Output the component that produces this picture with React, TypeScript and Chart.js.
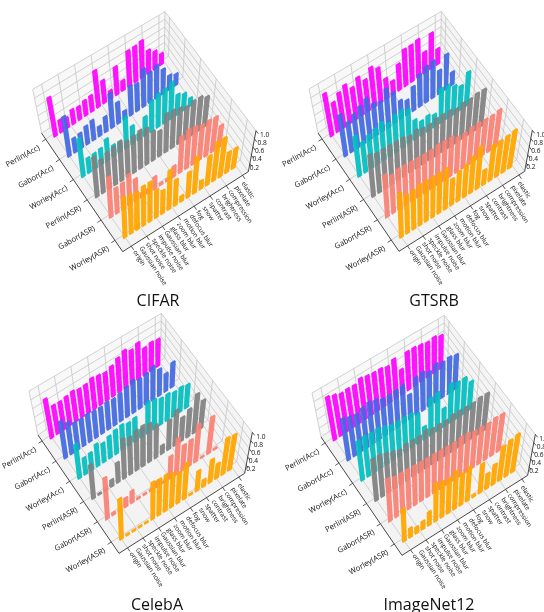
import React, { useEffect, useRef } from "react";
import { Chart, registerables } from "chart.js";

Chart.register(...registerables);

const categories = ["origin","Gaussian noise","shot noise","speckle noise","impulse noise","Gaussian blur","glass blur","zoom blur","motion blur","defocus blur","fog","snow","spatter","contrast","brightness","compression","pixelate","elastic"];
const rowLabels = ["Perlin(Acc)","Gabor(Acc)","Worley(Acc)","Perlin(ASR)","Gabor(ASR)","Worley(ASR)"];
const rowColors = ["rgba(255,0,255,0.92)","rgba(65,105,225,0.92)","rgba(0,190,190,0.92)","rgba(128,128,128,0.92)","rgba(250,128,114,0.92)","rgba(255,165,0,0.95)"];
const zTicks = [0.2,0.4,0.6,0.8,1.0];
const zGrid = [0,0.2,0.4,0.6,0.8,1.0];
const catTickPositions = [0,2.5,5,7.5,10,12.5,15,17.5];
const rowTickPositions = [0,1,2,3,4,5];

const cifarPerlinAcc = [0.88,0.28,0.23,0.33,0.3,0.35,0.37,0.87,0.54,0.2,0.67,0.24,0.87,0.88,0.92,0.58,0.45,0.28];
const cifarGaborAcc = [0.9,0.32,0.34,0.41,0.45,0.22,0.35,0.81,0.5,0.2,0.7,0.66,0.92,0.74,0.81,0.62,0.36,0.29];
const cifarWorleyAcc = [0.85,0.33,0.34,0.36,0.49,0.26,0.23,0.72,0.42,0.15,0.45,0.73,0.8,0.82,0.9,0.5,0.42,0.2];
const cifarPerlinAsr = [0.88,0.74,0.81,0.85,0.9,0.81,0.84,0.88,0.84,0.68,0.6,0.91,0.9,0.86,0.8,0.84,0.84,0.75];
const cifarGaborAsr = [0.88,0.56,0.58,0.69,0.5,0.1,0.1,0.28,0.05,0.05,0.25,0.85,0.92,0.9,0.85,0.86,0.85,0.55];
const cifarWorleyAsr = [0.87,0.85,0.81,0.87,0.88,0.62,0.52,0.89,0.59,0.13,0.58,0.85,0.2,0.69,0.94,0.93,0.5,0.5];

const gtsrbPerlinAcc = [0.96,0.67,0.8,0.89,0.74,0.89,0.74,0.94,0.83,0.48,0.32,0.63,0.9,0.9,0.94,0.53,0.9,0.4];
const gtsrbGaborAcc = [0.93,0.68,0.77,0.86,0.95,0.75,0.7,0.9,0.72,0.44,0.35,0.58,0.78,0.88,0.91,0.58,0.88,0.33];
const gtsrbWorleyAcc = [0.9,0.68,0.75,0.8,0.86,0.75,0.85,0.87,0.8,0.46,0.34,0.37,0.3,0.83,0.81,0.7,0.6,0.85];
const gtsrbPerlinAsr = [0.92,0.88,0.88,0.88,0.88,0.88,0.83,0.88,0.83,0.83,0.88,0.88,0.88,0.83,0.88,0.88,0.92,0.92];
const gtsrbGaborAsr = [0.92,0.83,0.88,0.88,0.88,0.88,0.88,0.88,0.92,0.92,0.92,0.83,0.83,0.88,0.88,0.88,0.88,0.92];
const gtsrbWorleyAsr = [0.95,0.83,0.85,0.9,0.9,0.9,0.9,0.92,0.6,0.68,0.75,0.85,0.98,0.35,0.85,0.85,0.88,0.92];

const celebaPerlinAcc = [0.88,0.65,0.64,0.67,0.7,0.66,0.67,0.73,0.7,0.67,0.73,0.83,0.92,0.83,0.91,0.68,0.72,0.69];
const celebaGaborAcc = [0.83,0.72,0.63,0.62,0.64,0.62,0.61,0.64,0.62,0.65,0.71,0.78,0.71,0.75,0.82,0.66,0.45,0.63];
const celebaWorleyAcc = [0.76,0.37,0.39,0.5,0.43,0.5,0.55,0.58,0.53,0.56,0.2,0.74,0.71,0.64,0.65,0.6,0.62,0.58];
const celebaPerlinAsr = [0.75,0.03,0.03,0.15,0.45,0.9,0.85,0.92,0.94,0.9,0.77,0.2,0.7,0.85,0.58,0.68,0.96,0.7];
const celebaGaborAsr = [0.9,0.05,0.03,0.2,0.27,0.03,0.03,0.03,0.13,0.03,0.52,0.85,0.6,0.62,0.9,0.03,0.9,0.03];
const celebaWorleyAsr = [0.88,0.03,0.03,0.03,0.03,0.83,0.81,0.83,0.77,0.71,0.83,0.03,0.47,0.17,0.55,0.36,0.88,0.86];

const imagenetPerlinAcc = [0.98,0.93,0.88,0.9,0.89,0.96,0.93,0.91,0.91,0.86,0.95,0.6,0.94,0.94,0.91,0.87,0.9,0.84];
const imagenetGaborAcc = [0.94,0.89,0.86,0.92,0.96,0.92,0.86,0.85,0.87,0.89,0.58,0.9,0.93,0.84,0.94,0.88,0.91,0.87];
const imagenetWorleyAcc = [0.88,0.9,0.88,0.9,0.85,0.8,0.79,0.8,0.79,0.7,0.3,0.88,0.92,0.45,0.95,0.89,0.9,0.71];
const imagenetPerlinAsr = [0.92,0.92,0.88,0.83,0.78,0.83,0.83,0.83,0.88,0.83,0.83,0.83,0.88,0.88,0.88,0.88,0.92,0.92];
const imagenetGaborAsr = [0.92,0.88,0.88,0.88,0.88,0.88,0.88,0.88,0.88,0.88,0.88,0.92,0.92,0.88,0.88,0.88,0.92,0.92];
const imagenetWorleyAsr = [0.7,0.2,0.14,0.18,0.3,0.85,0.8,0.79,0.86,0.72,0.78,0.05,0.68,0.36,0.48,0.82,0.87,0.92];

type Pt = { x: number; y: number };
const Z = 3; // corner measurements were taken at 3x
const CORNERS = {
  L: [125, 400], B: [368, 755], R: [745, 515], K: [493, 150],
  tL: [98, 268], tB: [362, 615], tR: [768, 392], tK: [495, 35],
};

const U0 = 0.07, DU = 0.171, V0 = 0.07, DV = 0.0506, HALF_U = 0.006, HALF_V = 0.0165;
const uOf = (r: number) => U0 + r * DU;
const vOf = (c: number) => V0 + c * DV;

function homography(p0: number[], p1: number[], p2: number[], p3: number[]) {
  const [x0, y0] = p0, [x1, y1] = p1, [x2, y2] = p2, [x3, y3] = p3;
  const dx1 = x1 - x2, dx2 = x3 - x2, sx = x0 - x1 + x2 - x3;
  const dy1 = y1 - y2, dy2 = y3 - y2, sy = y0 - y1 + y2 - y3;
  const den = dx1 * dy2 - dx2 * dy1;
  const g = (sx * dy2 - dx2 * sy) / den, h = (dx1 * sy - sx * dy1) / den;
  const a = x1 - x0 + g * x1, b = x3 - x0 + h * x3, d = y1 - y0 + g * y1, e = y3 - y0 + h * y3;
  return (u: number, v: number): Pt => {
    const w = g * u + h * v + 1;
    return { x: (a * u + b * v + x0) / w, y: (d * u + e * v + y0) / w };
  };
}

function makeProjector(ox: number, oy: number) {
  const s = (p: number[]) => [(p[0] + ox) / Z, (p[1] + oy) / Z];
  const floor = homography(s(CORNERS.L), s(CORNERS.B), s(CORNERS.R), s(CORNERS.K));
  const top = homography(s(CORNERS.tL), s(CORNERS.tB), s(CORNERS.tR), s(CORNERS.tK));
  return (u: number, v: number, w: number): Pt => {
    const a = floor(u, v), b = top(u, v);
    return { x: a.x + (b.x - a.x) * w, y: a.y + (b.y - a.y) * w };
  };
}

function hull(points: Pt[]): Pt[] {
  const p = [...points].sort((a, b) => a.x - b.x || a.y - b.y);
  const cross = (o: Pt, a: Pt, b: Pt) => (a.x - o.x) * (b.y - o.y) - (a.y - o.y) * (b.x - o.x);
  const lo: Pt[] = [], up: Pt[] = [];
  for (const q of p) { while (lo.length > 1 && cross(lo[lo.length - 2], lo[lo.length - 1], q) <= 0) lo.pop(); lo.push(q); }
  for (const q of [...p].reverse()) { while (up.length > 1 && cross(up[up.length - 2], up[up.length - 1], q) <= 0) up.pop(); up.push(q); }
  return [...lo.slice(0, -1), ...up.slice(0, -1)];
}

const TITLE_SIZE = 16, TITLE_LH = 1.2;
const FONT = "'Open Sans'";

function Panel(props: { title: string; rows: number[][]; left: number; top: number; centerX: number; titleY: number; height: number; ox: number; oy: number }) {
  const ref = useRef<HTMLCanvasElement>(null);
  const { title, rows, left, top, centerX, titleY, height, ox, oy } = props;
  const width = centerX * 2;
  useEffect(() => {
    const P = makeProjector(ox, oy);
    const ds: any[] = [];
    const poly = (pts: Pt[], color: string) => ds.push({ data: [...pts, pts[0]], showLine: true, fill: "shape", backgroundColor: color, borderWidth: 0, pointRadius: 0, tension: 0 });
    const line = (a: Pt, b: Pt, color: string, w: number) => ds.push({ data: [a, b], showLine: true, fill: false, borderColor: color, borderWidth: w, pointRadius: 0, tension: 0 });

    poly([P(0,0,0), P(0,1,0), P(0,1,1), P(0,0,1)], "#f8f8f8");
    poly([P(0,1,0), P(1,1,0), P(1,1,1), P(0,1,1)], "#f4f4f4");
    poly([P(0,0,0), P(1,0,0), P(1,1,0), P(0,1,0)], "#f3f3f3");

    const GRID = "#c6c6c6";
    for (const c of catTickPositions) {
      const v = vOf(c);
      line(P(1,v,0), P(0,v,0), GRID, 0.8);
      line(P(0,v,0), P(0,v,1), GRID, 0.8);
      line(P(1,v,0), P(1.03,v,0), "#333", 0.8);
    }
    for (const r of rowTickPositions) {
      const u = uOf(r) - 0.02;
      line(P(u,0,0), P(u,1,0), GRID, 0.8);
      line(P(u,1,0), P(u,1,1), GRID, 0.8);
      line(P(u,0,0), P(u,-0.03,0), "#333", 0.8);
    }
    for (const z of zGrid) {
      line(P(0,0,z), P(0,1,z), GRID, 0.8);
      line(P(0,1,z), P(1,1,z), GRID, 0.8);
    }
    for (const z of zTicks) line(P(1,1,z), P(1.025,1,z), "#333", 0.8);
    line(P(0,0,0), P(0,0,1), GRID, 0.8);
    line(P(0,1,0), P(0,1,1), GRID, 0.8);
    line(P(0,0,0), P(1,0,0), "#333", 0.9);
    line(P(1,0,0), P(1,1,0), "#333", 0.9);
    line(P(1,1,0), P(1,1,1), "#333", 0.9);

    rows.forEach((vals, r) => {
      vals.forEach((val, c) => {
        const u = uOf(r), v = vOf(c), pts: Pt[] = [];
        for (const du of [-HALF_U, HALF_U]) for (const dv of [-HALF_V, HALF_V]) for (const w of [0, val]) pts.push(P(u + du, v + dv, w));
        poly(hull(pts), rowColors[r]);
      });
    });

    const textPlugin = {
      id: "boxLabels",
      afterDraw(chart: any) {
        const { ctx, scales: { x, y } } = chart;
        const put = (p: Pt, s: string, rot: number, align: CanvasTextAlign, font: string) => {
          ctx.save();
          ctx.translate(x.getPixelForValue(p.x), y.getPixelForValue(p.y));
          ctx.rotate(rot);
          ctx.textAlign = align; ctx.textBaseline = "middle"; ctx.font = font; ctx.fillStyle = "#111";
          ctx.fillText(s, 0, 0);
          ctx.restore();
        };
        rowLabels.forEach((s, r) => {
          const a = P(uOf(r) - 0.02, -0.05, 0);
          put({ x: a.x - 0.5, y: a.y + 4 }, s, -(29 * Math.PI) / 180, "right", `7.7px ${FONT}`);
        });
        categories.forEach((s, c) => put(P(1.04, vOf(c), 0), s, (57 * Math.PI) / 180, "left", `6.4px ${FONT}`));
        zTicks.forEach((z) => {
          const e = P(1, 1, z);
          put({ x: e.x + (z - 0.2) * 5, y: e.y + 4.3 }, z.toFixed(1), 0, "left", `6.6px ${FONT}`);
        });
      },
    };

    const blockH = TITLE_SIZE * TITLE_LH + (height - titleY - (TITLE_SIZE * TITLE_LH) / 2);
    const chart = new Chart(ref.current as HTMLCanvasElement, {
      type: "scatter",
      data: { datasets: ds.reverse() },
      options: {
        animation: false, responsive: false, devicePixelRatio: 1,
        layout: { padding: 0 },
        scales: {
          x: { type: "linear", display: false, min: 0, max: width },
          y: { type: "linear", display: false, min: 0, max: height - blockH, reverse: true },
        },
        plugins: {
          legend: { display: false }, tooltip: { enabled: false },
          title: {
            display: true, text: title, position: "bottom", color: "#111",
            font: { family: FONT, size: TITLE_SIZE, weight: "normal", lineHeight: TITLE_LH },
            padding: { top: 0, bottom: height - titleY - (TITLE_SIZE * TITLE_LH) / 2 },
          },
        },
      } as any,
      plugins: [textPlugin] as any,
    });
    return () => chart.destroy();
  }, []);
  return <canvas ref={ref} width={width} height={height} style={{ position: "absolute", left, top, width, height, filter: "blur(0.3px)" }} />;
}

export default function App() {
  return (
    <div style={{ position: "absolute", left: 0, top: 0, width: 544, height: 612, overflow: "hidden", background: "#fff" }}>
      <Panel title="CIFAR" left={0} top={0} centerX={158} titleY={301.5} height={314} ox={0} oy={0}
        rows={[cifarPerlinAcc, cifarGaborAcc, cifarWorleyAcc, cifarPerlinAsr, cifarGaborAsr, cifarWorleyAsr]} />
      <Panel title="GTSRB" left={272} top={0} centerX={162} titleY={301.5} height={314} ox={13} oy={-1}
        rows={[gtsrbPerlinAcc, gtsrbGaborAcc, gtsrbWorleyAcc, gtsrbPerlinAsr, gtsrbGaborAsr, gtsrbWorleyAsr]} />
      <Panel title="CelebA" left={0} top={306} centerX={157} titleY={299} height={314} ox={-11} oy={-13}
        rows={[celebaPerlinAcc, celebaGaborAcc, celebaWorleyAcc, celebaPerlinAsr, celebaGaborAsr, celebaWorleyAsr]} />
      <Panel title="ImageNet12" left={272} top={306} centerX={157} titleY={299} height={314} ox={22} oy={-7}
        rows={[imagenetPerlinAcc, imagenetGaborAcc, imagenetWorleyAcc, imagenetPerlinAsr, imagenetGaborAsr, imagenetWorleyAsr]} />
    </div>
  );
}
